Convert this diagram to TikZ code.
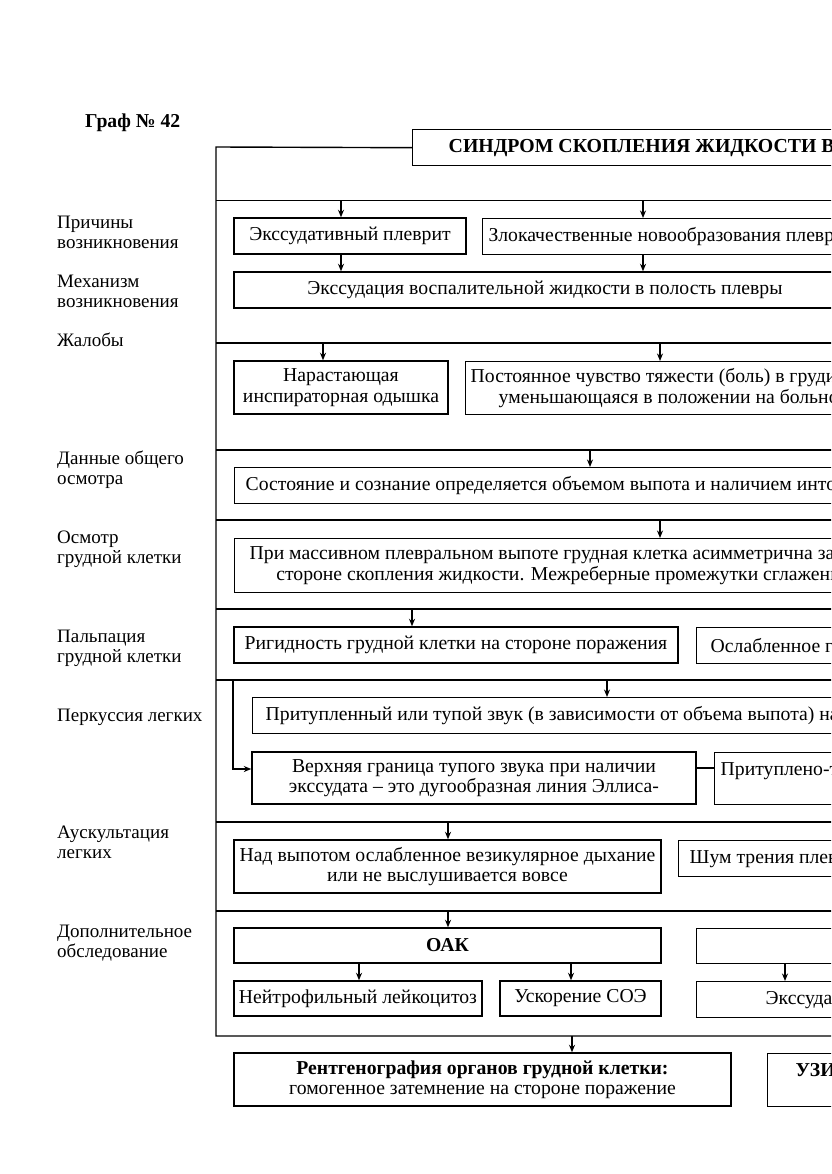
\documentclass[tikz,border=0pt]{standalone}
\usepackage{fontspec}
\setmainfont{Liberation Serif}
\newfontfamily\tnr{Liberation Serif}
\usetikzlibrary{arrows.meta}
\newcommand\fs{\tnr\fontsize{19.7}{20.3}\selectfont}
\newcommand\fsl{\tnr\fontsize{19}{19.5}\selectfont}
\newcommand\fst{\tnr\fontsize{19.8}{21}\selectfont\bfseries}
\begin{document}
\begin{tikzpicture}[x=1pt,y=-1pt,
  every node/.style={font=\fs},
  box/.style={draw, line width=1.4pt, inner sep=0pt, align=center},
  cutbox/.style={box, anchor=north west, align=flush left, text width=700pt},
  ln/.style={line width=1.4pt},
  arr/.style={ln, -{Stealth[length=7.5pt,width=6pt]}},
  lab/.style={anchor=base west, align=flush left, inner sep=0pt, font=\fsl}]
\useasboundingbox (0,0) rectangle (831,1174);
\clip (0,0) rectangle (831,1174);
\fill[white] (0,0) rectangle (831,1174);

% header
\node[lab, font=\fs\bfseries] (graf) at (85,128) {Граф № 42};
\node[cutbox, font=\fst, minimum height=36, inner xsep=36] (title) at (412,129) {СИНДРОМ СКОПЛЕНИЯ ЖИДКОСТИ В};

% frame and separators
\coordinate (fc1) at (216,147);
\coordinate (fc2) at (216,1036);
\coordinate (fc3) at (900,1036);
\draw[ln] (title.west) -- (fc1) -- (fc2) -- (fc3);
\foreach \y in {200.7,343,450,520,609,680,822,911} \draw[ln] (216,\y) -- (900,\y);

% left labels
\node[lab] (l1) at (57,248) {Причины\\возникновения};
\node[lab] (l2) at (57,307) {Механизм\\возникновения};
\node[lab] (l3) at (57,346) {Жалобы};
\node[lab] (l4) at (57,484) {Данные общего\\осмотра};
\node[lab] (l5) at (57,563) {Осмотр\\грудной клетки};
\node[lab] (l6) at (57,662) {Пальпация\\грудной клетки};
\node[lab] (l7) at (57,721) {Перкуссия легких};
\node[lab] (l8) at (57,858) {Аускультация\\легких};
\node[lab] (l9) at (57,957) {Дополнительное\\обследование};

% causes
\node[box, minimum width=232, minimum height=36] (A1) at (350,236) {Экссудативный плеврит};
\node[cutbox, minimum height=36, inner xsep=6] (A2) at (482,218) {Злокачественные новообразования плевры};
\coordinate (a1) at (341,200.7);
\coordinate (a2) at (643,200.7);
\draw[arr] (a1) -- (a1 |- A1.north);
\draw[arr] (a2) -- (a2 |- A2.north);
\node[box, minimum width=622, minimum height=36] (M) at (545,290) {Экссудация воспалительной жидкости в полость плевры};
\draw[arr] (A1.south -| a1) -- (a1 |- M.north);
\draw[arr] (A2.south -| a2) -- (a2 |- M.north);

% complaints
\node[box, minimum width=214, minimum height=53] (B1) at (341,387.5) {Нарастающая\\инспираторная одышка};
\node[cutbox, minimum height=53, inner xsep=5] (B2) at (465,361) {Постоянное чувство тяжести (боль) в груди\\\hspace*{28pt}уменьшающаяся в положении на больно};
\coordinate (b1) at (323,343);
\coordinate (b2) at (660,343);
\draw[arr] (b1) -- (b1 |- B1.north);
\draw[arr] (b2) -- (b2 |- B2.north);

% general
\node[cutbox, minimum height=36, inner xsep=11] (C) at (234,467) {Состояние и сознание определяется объемом выпота и наличием инто};
\coordinate (c1) at (590,450);
\draw[arr] (c1) -- (c1 |- C.north);

% chest inspection
\node[cutbox, minimum height=54, inner xsep=15] (D) at (234,538) {При массивном плевральном выпоте грудная клетка асимметрична за\\\hspace*{26.6pt}стороне скопления жидкости. Межреберные промежутки сглажены};
\coordinate (d1) at (660,520);
\draw[arr] (d1) -- (d1 |- D.north);

% palpation
\node[box, minimum width=444, minimum height=36] (E1) at (456,645) {Ригидность грудной клетки на стороне поражения};
\node[cutbox, minimum height=36, inner xsep=14] (E2) at (696,627) {Ослабленное г};
\coordinate (e1) at (412,609);
\draw[arr] (e1) -- (e1 |- E1.north);

% percussion
\node[cutbox, minimum height=36, inner xsep=13] (F1) at (252,697) {Притупленный или тупой звук (в зависимости от объема выпота) на};
\node[box, minimum width=444, minimum height=52] (F2) at (474,778) {Верхняя граница тупого звука при наличии\\экссудата – это дугообразная линия Эллиса-};
\node[cutbox, minimum height=52, inner xsep=6] (F3) at (714,752) {Притуплено-т\\\mbox{}};
\coordinate (f1) at (607,680);
\draw[arr] (f1) -- (f1 |- F1.north);
\coordinate (f0) at (233,680);
\coordinate (f0b) at (233,769);
\draw[arr] (f0) -- (f0b) -- (f0b -| F2.west);
\coordinate (fl) at (705,768);
\draw[ln] (fl -| F2.east) -- (fl -| F3.west);

% auscultation
\node[box, minimum width=427, minimum height=53] (G1) at (447.5,866.5) {Над выпотом ослабленное везикулярное дыхание\\или не выслушивается вовсе};
\node[cutbox, minimum height=36, inner xsep=11] (G2) at (678,840) {Шум трения плев};
\coordinate (g1) at (448,822);
\draw[arr] (g1) -- (g1 |- G1.north);

% additional
\node[box, minimum width=427, minimum height=35, font=\fs\bfseries] (H1) at (447.5,945.5) {ОАК};
\node[cutbox, minimum height=35] (H2) at (696,928) {};
\coordinate (h1) at (448,911);
\draw[arr] (h1) -- (h1 |- H1.north);
\node[box, minimum width=248, minimum height=35] (I1) at (358,998.5) {Нейтрофильный лейкоцитоз};
\node[box, minimum width=161, minimum height=35] (I2) at (580.5,998.5) {Ускорение СОЭ};
\node[cutbox, minimum height=36, inner xsep=69] (I3) at (696,981) {Экссудат};
\coordinate (i1) at (359,963);
\coordinate (i2) at (571,963);
\coordinate (i3) at (785,963);
\draw[arr] (H1.south -| i1) -- (i1 |- I1.north);
\draw[arr] (H1.south -| i2) -- (i2 |- I2.north);
\draw[arr] (H2.south -| i3) -- (i3 |- I3.north);

% imaging
\node[box, minimum width=497, minimum height=53] (J1) at (482.5,1079.5) {\bfseries Рентгенография органов грудной клетки:\\гомогенное затемнение на стороне поражение};
\node[cutbox, minimum height=53, inner xsep=28] (J2) at (767,1053) {\bfseries УЗИ\\\mbox{}};
\coordinate (j1) at (572,1036);
\draw[arr] (j1) -- (j1 |- J1.north);
\end{tikzpicture}
\end{document}
